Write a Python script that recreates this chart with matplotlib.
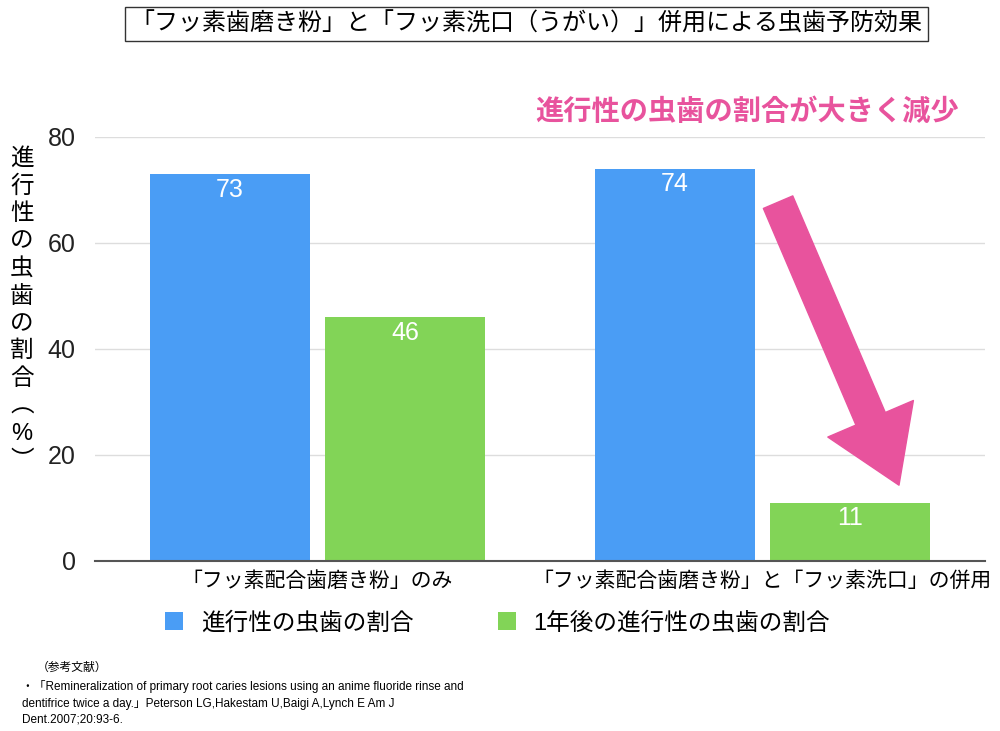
import matplotlib.pyplot as plt
import numpy as np

plt.rcParams['font.family'] = ['Liberation Sans', 'Noto Sans CJK JP', 'DejaVu Sans']

# data
groups = ['「フッ素配合歯磨き粉」のみ', '「フッ素配合歯磨き粉」と「フッ素洗口」の併用']
series_names = ['進行性の虫歯の割合', '1年後の進行性の虫歯の割合']
before = [73, 74]
after = [46, 11]
yticks = [0, 20, 40, 60, 80]

title = '「フッ素歯磨き粉」と「フッ素洗口（うがい）」併用による虫歯予防効果'
note = '進行性の虫歯の割合が大きく減少'
ylabel = '進行性の虫歯の割合︵%︶'
refs = ('・「Remineralization of primary root caries lesions using an anime fluoride rinse and\n'
        'dentifrice twice a day.」Peterson LG,Hakestam U,Baigi A,Lynch E Am J\n'
        'Dent.2007;20:93-6.')

blue = '#4a9df5'
green = '#82d457'
pink = '#e8539d'

fig = plt.figure(figsize=(10, 7.31), dpi=100)
ax = fig.add_axes([0.095, 0.2326, 0.89, 0.58])

x = np.arange(len(groups))
w = 0.36
off = 0.197
b1 = ax.bar(x - off, before, w, color=blue, label=series_names[0], zorder=2)
b2 = ax.bar(x + off, after, w, color=green, label=series_names[1], zorder=2)

for bars in (b1, b2):
    for r in bars:
        ax.annotate(f'{r.get_height():g}', (r.get_x() + r.get_width() / 2, r.get_height()),
                    xytext=(0, -2.5), textcoords='offset points', ha='center', va='top',
                    color='white', fontsize=18, zorder=3)

ax.set_xlim(-0.5, 1.5)
ax.set_ylim(0, 80)
ax.set_yticks(yticks)
ax.tick_params(axis='y', length=0, pad=14, labelsize=18, labelcolor='#222222')
ax.tick_params(axis='x', length=0, pad=7, labelsize=15)
ax.set_xticks(x)
ax.set_xticklabels(groups)
ax.grid(axis='y', color='#dddddd', lw=1, zorder=0)
for s in ['top', 'right', 'left']:
    ax.spines[s].set_visible(False)
ax.spines['bottom'].set_color('#555555')
ax.spines['bottom'].set_linewidth(1.5)

# big pink arrow
ax.annotate('', xy=(1.3067, 14.3), xytext=(1.035, 67.7),
            arrowprops=dict(arrowstyle='simple,head_length=52,head_width=67,tail_width=23',
                            mutation_scale=1, color=pink, shrinkA=0, shrinkB=0), zorder=4)

fig.text(0.7475, 1 - 112 / 731, note, color=pink, fontsize=20.3, fontweight='bold',
         ha='center', va='center')

fig.text(0.5265, 1 - 24 / 731, title, fontsize=17.3, ha='center', va='center',
         bbox=dict(boxstyle='square,pad=0.22', fc='white', ec='#333333', lw=1))

fig.text(0.022, 1 - 310 / 731, '\n'.join(ylabel), fontsize=17, ha='center', va='center',
         linespacing=1.32)

fig.legend(handles=[b1, b2], labels=series_names, ncol=2, loc='center left',
           bbox_to_anchor=(0.144, 1 - 623 / 731), frameon=False, fontsize=17,
           handlelength=0.75, handleheight=0.75, handletextpad=0.75, columnspacing=3.6)

fig.text(0.037, 1 - 668 / 731, '（参考文献）', fontsize=8.5, va='center')
fig.text(0.022, 1 - 680 / 731, refs, fontsize=8.5, va='top', linespacing=1.5)

fig.savefig('out.png', dpi=100)
